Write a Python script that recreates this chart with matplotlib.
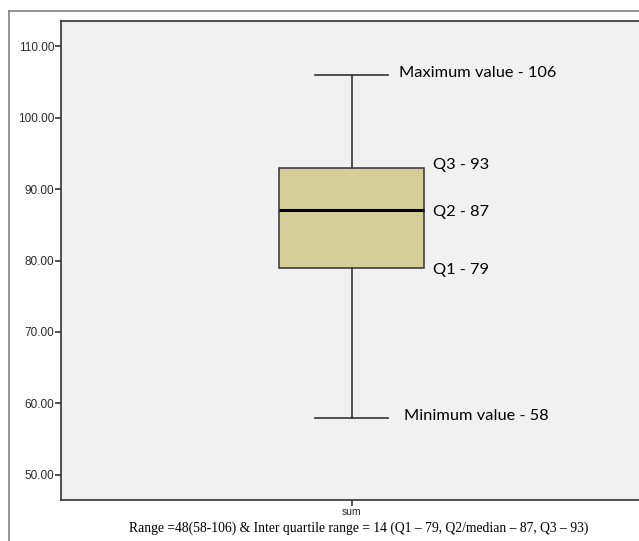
import matplotlib.pyplot as plt
from matplotlib.lines import Line2D

# five-number summary
stats_label = "sum"
minimum = 58
q1 = 79
median = 87
q3 = 93
maximum = 106

y_ticks = [50, 60, 70, 80, 90, 100, 110]
notes = ["Maximum value - 106", "Q3 - 93", "Q2 - 87", "Q1 - 79", "Minimum value - 58"]
note_y = [106.2, 93.3, 86.8, 78.7, 58.2]
note_x = [0.082, 0.141, 0.141, 0.141, 0.091]
caption = "Range =48(58-106) & Inter quartile range = 14 (Q1 \u2013 79, Q2/median \u2013 87, Q3 \u2013 93)"


def main():
    fig = plt.figure(figsize=(6.39, 5.41), dpi=100)
    fig.patch.set_facecolor("white")

    # outer frame (left and top only visible)
    fig.add_artist(Line2D([9 / 639, 9 / 639], [0, 1 - 11 / 541], transform=fig.transFigure,
                          color="#808080", lw=1.2))
    fig.add_artist(Line2D([9 / 639, 1], [1 - 11 / 541, 1 - 11 / 541], transform=fig.transFigure,
                          color="#808080", lw=1.2))

    ax = fig.add_axes([61 / 639, 41 / 541, 1 - 61 / 639 + 0.003, 479 / 541])
    ax.set_facecolor("#f1f1f1")

    bxp_stats = [{
        "label": stats_label, "whislo": minimum, "q1": q1, "med": median,
        "q3": q3, "whishi": maximum, "fliers": [],
    }]
    ax.bxp(bxp_stats, positions=[0], widths=0.251, patch_artist=True, showfliers=False,
           boxprops=dict(facecolor="#d4cf98", edgecolor="#333333", lw=1.1),
           medianprops=dict(color="black", lw=2.2),
           whiskerprops=dict(color="#333333", lw=1.2),
           capprops=dict(color="#333333", lw=1.2),
           capwidths=0.125)

    for txt, x, y in zip(notes, note_x, note_y):
        ax.text(x, y, txt, ha="left", va="center", fontsize=11.8, family="Lato", color="black")

    ax.set_xlim(-0.5026, 0.4974 + 0.003 * 639 / 578)
    ax.set_ylim(46.5, 113.5)
    ax.set_yticks(y_ticks)
    ax.set_yticklabels([f"{v:.2f}" for v in y_ticks], family="Liberation Sans", fontsize=8.5,
                       color="#2a2a2a")
    ax.set_xticks([0])
    ax.set_xticklabels([stats_label], family="Liberation Sans", fontsize=7.5, color="#2a2a2a")
    ax.tick_params(axis="both", direction="out", length=4, width=1.2, color="#333333", pad=1)
    for side in ["left", "bottom", "top"]:
        ax.spines[side].set_color("#333333")
        ax.spines[side].set_linewidth(1.2)
    ax.spines["right"].set_visible(False)

    fig.text(359 / 639, 1 - 528 / 541, caption, ha="center", va="center",
             family="Liberation Serif", fontsize=9.8, color="black")

    fig.savefig("out.png", dpi=100)
    plt.close(fig)


if __name__ == "__main__":
    main()
